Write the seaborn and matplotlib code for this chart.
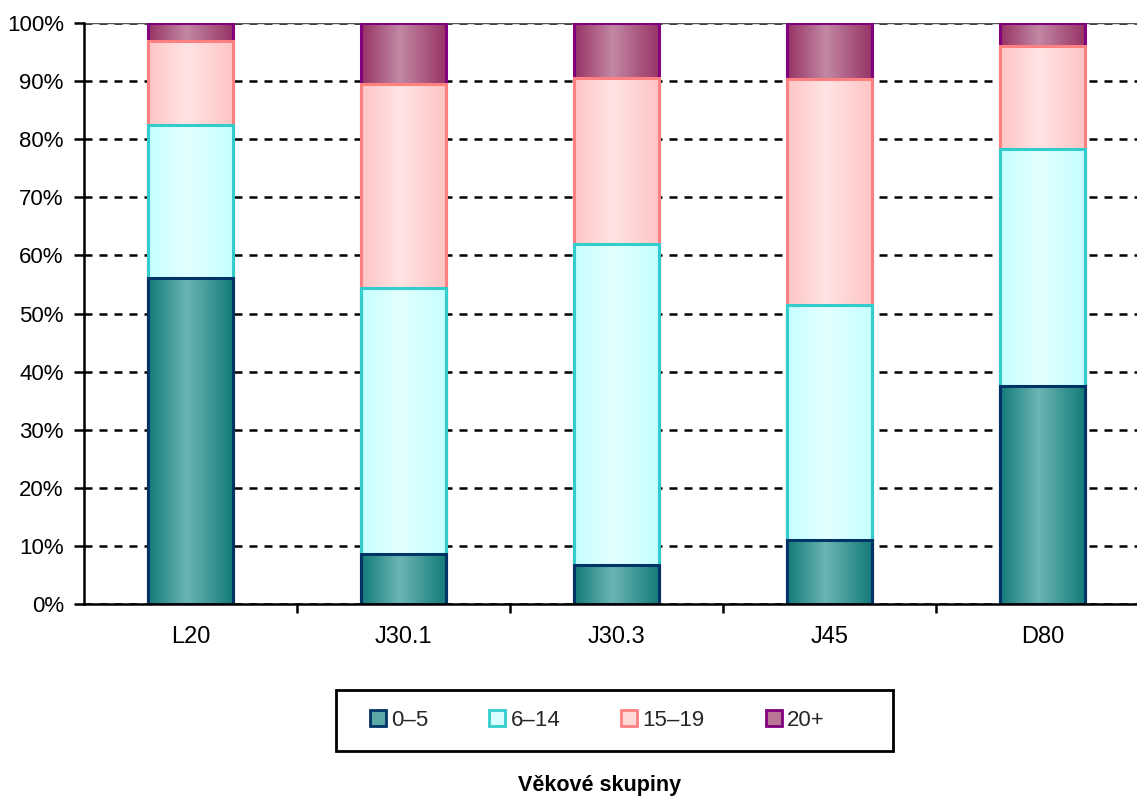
import numpy as np
import pandas as pd
import matplotlib.pyplot as plt
import seaborn as sns
from matplotlib.colors import LinearSegmentedColormap
from matplotlib.patches import Patch, Rectangle

# shares (%)
groups = ["L20", "J30.1", "J30.3", "J45", "D80"]
ages = ["0–5", "6–14", "15–19", "20+"]
share_0_5 = [56.1, 8.6, 6.7, 11.0, 37.5]
share_6_14 = [26.3, 45.8, 55.3, 40.5, 40.8]
share_15_19 = [14.5, 35.1, 28.5, 38.9, 17.7]
share_20 = [3.1, 10.5, 9.5, 9.6, 4.0]

edge_cols = ["#003366", "#33cccc", "#ff8080", "#800080"]
grad_cols = [("#127b78", "#6bb5b3"), ("#c4ffff", "#e4ffff"),
             ("#ffc4c4", "#ffe4e4"), ("#973265", "#c288a4")]
legend_cols = ["#5aa9a7", "#d8ffff", "#ffd8d8", "#b87595"]

shares = [share_0_5, share_6_14, share_15_19, share_20]
rows = []
for k, age in enumerate(ages):
    for i, g in enumerate(groups):
        rows.append({"group": g, "age": age, "share": shares[k][i],
                     "cum": sum(s[i] for s in shares[:k + 1])})
df = pd.DataFrame(rows)

sns.set_theme(style="white")
plt.rcParams['font.family'] = ['Liberation Sans', 'DejaVu Sans']

fig = plt.figure(figsize=(11.37, 8.01), dpi=100)
ax = fig.add_axes([84 / 1137, 197 / 801, 1065 / 1137, 581 / 801])

# horizontal gradient strip: dark edges, light centre
ramp = np.linspace(0, 1, 256).reshape(1, -1)

# draw cumulative bars from the top layer down so lower layers sit on top
for k in range(3, -1, -1):
    n0 = len(ax.patches)
    sub = df[df["age"] == ages[k]]
    sns.barplot(data=sub, x="group", y="cum", order=groups, width=0.4,
                errorbar=None, color=legend_cols[k], edgecolor=edge_cols[k],
                linewidth=2.2, ax=ax)
    cmap = LinearSegmentedColormap.from_list(
        "g%d" % k, [(0, grad_cols[k][0]), (0.45, grad_cols[k][1]), (1, grad_cols[k][0])])
    z = 10 + (3 - k) * 2
    for p in ax.patches[n0:]:
        x0, y0 = p.get_x(), p.get_y()
        w, h = p.get_width(), p.get_height()
        im = ax.imshow(ramp, cmap=cmap, extent=[x0, x0 + w, y0, y0 + h],
                       aspect="auto", interpolation="bilinear", zorder=z)
        im.set_clip_path(p)
        p.set_facecolor("none")
        p.set_zorder(z + 1)

ax.set_xlim(-0.5, 4.5)
ax.set_ylim(0, 100)
ax.set_yticks(range(0, 101, 10))
ax.set_yticklabels(["%d%%" % v for v in range(0, 101, 10)])
ax.set_xticks(range(len(groups)))
ax.set_xticklabels(groups)
ax.set_xticks(np.arange(0.5, 5, 1), minor=True)
ax.set_xlabel("")
ax.set_ylabel("")

ax.yaxis.grid(True, linestyle=(0, (3.2, 2.8)), color="black", linewidth=1.8, zorder=1)
ax.set_axisbelow(True)
ax.axhline(100, color="#555555", linewidth=1, zorder=1)

for s in ["top", "right"]:
    ax.spines[s].set_visible(False)
for s in ["left", "bottom"]:
    ax.spines[s].set_color("black")
    ax.spines[s].set_linewidth(1.8)
    ax.spines[s].set_zorder(30)

ax.tick_params(axis="y", direction="out", length=7.5, width=1.8, color="black",
               labelsize=16, pad=7, left=True)
ax.tick_params(axis="x", which="major", length=0, labelsize=17, pad=16)
ax.tick_params(axis="x", which="minor", direction="out", length=6.5, width=1.8,
               color="black", bottom=True)
for t in ax.get_xticklabels() + ax.get_yticklabels():
    t.set_color("black")

# legend box (wider on the right, as in the original)
fig.add_artist(Rectangle((336 / 1137, 1 - 751 / 801), 557 / 1137, 61 / 801,
                         transform=fig.transFigure, fill=False, edgecolor="black",
                         linewidth=2))
handles = [Patch(facecolor=legend_cols[k], edgecolor=edge_cols[k], linewidth=2, label=ages[k])
           for k in range(4)]
leg = fig.legend(handles=handles, loc="center left", bbox_to_anchor=(370 / 1137, 1 - 720.5 / 801),
                 ncol=4, fontsize=16, frameon=False, borderpad=0, borderaxespad=0,
                 handlelength=0.72, handleheight=0.72, handletextpad=0.23, columnspacing=2.75)

fig.text(600 / 1137, 1 - 785 / 801, "Věkové skupiny", fontsize=15.5, fontweight="bold",
         ha="center", va="center", color="black")

fig.savefig("out.png", dpi=100)
